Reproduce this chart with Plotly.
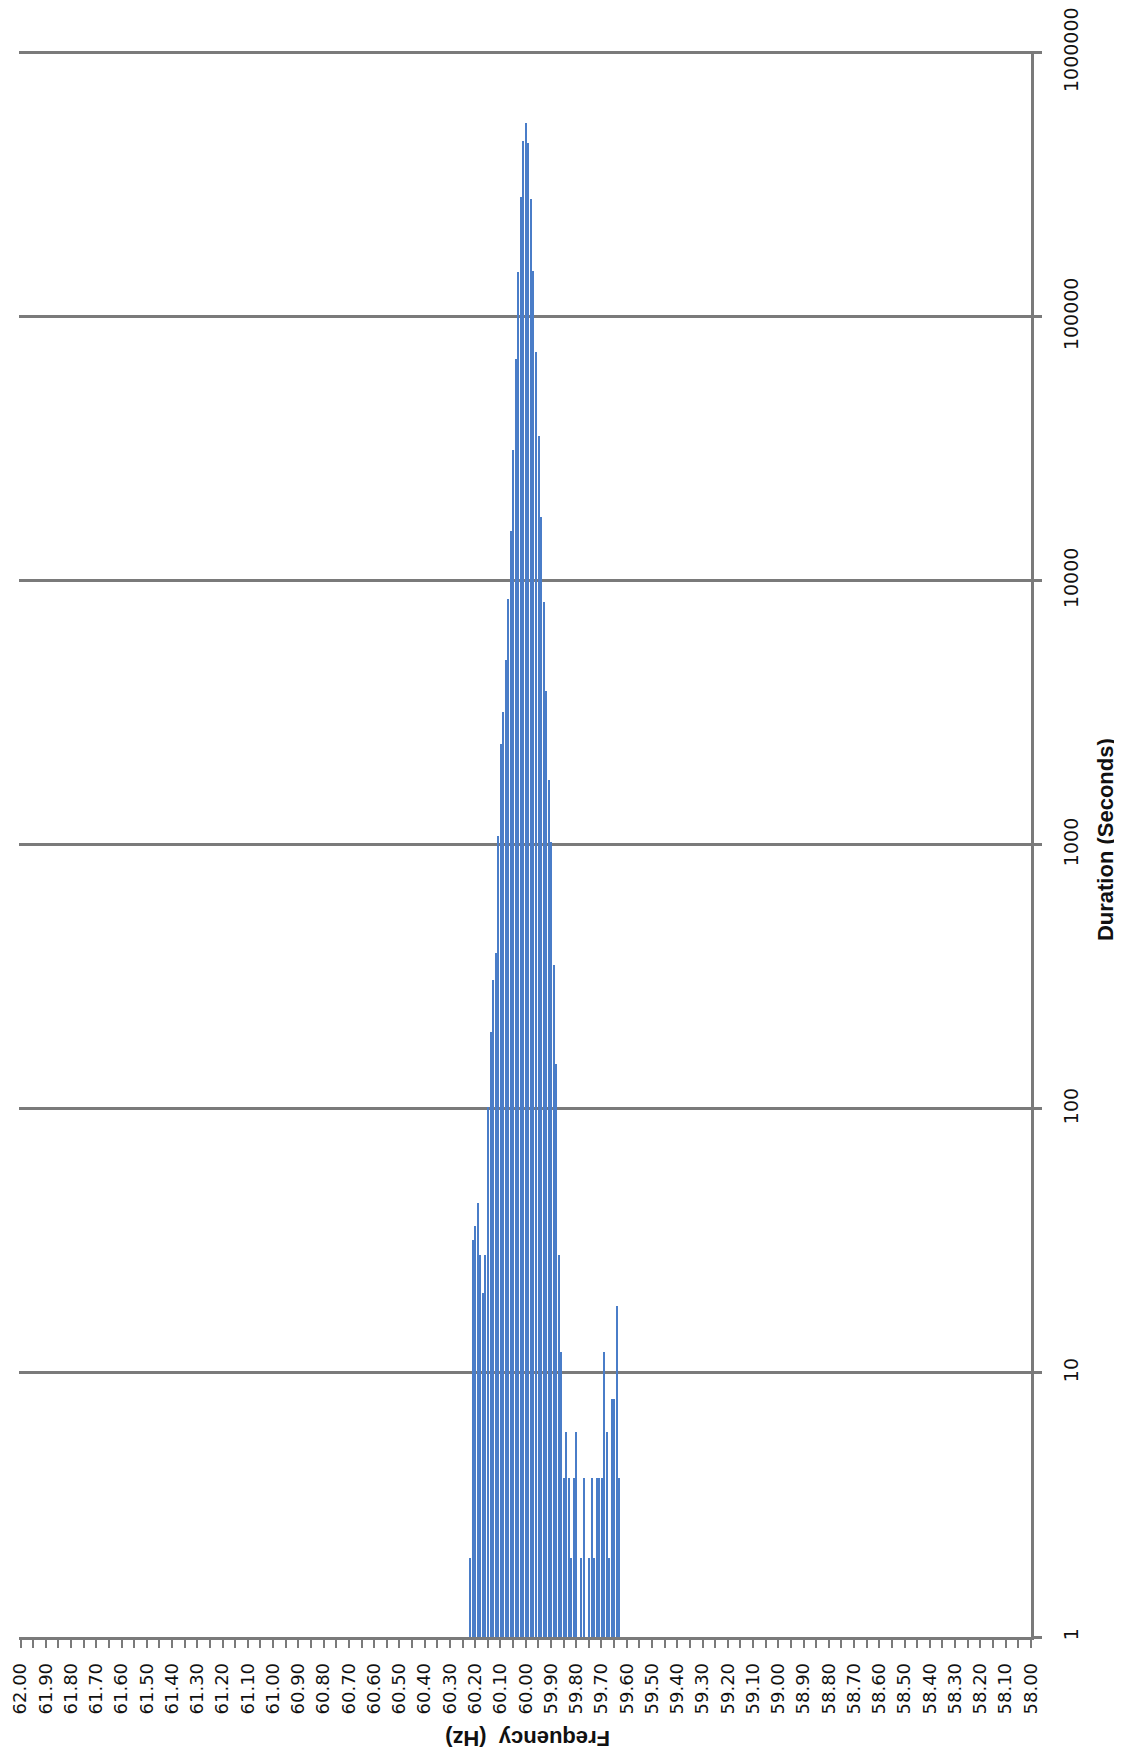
import plotly.graph_objects as go

# Frequency bins (Hz) and time spent at each (seconds)
freq_hz = [60.22, 60.21, 60.20, 60.19, 60.18, 60.17, 60.16, 60.15, 60.14, 60.13,
           60.12, 60.11, 60.10, 60.09, 60.08, 60.07, 60.06, 60.05, 60.04, 60.03,
           60.02, 60.01, 60.00, 59.99, 59.98, 59.97, 59.96, 59.95, 59.94, 59.93,
           59.92, 59.91, 59.90, 59.89, 59.88, 59.87, 59.86, 59.85, 59.84, 59.83,
           59.82, 59.81, 59.80, 59.78, 59.77, 59.75, 59.74, 59.73, 59.72, 59.71,
           59.70, 59.69, 59.68, 59.67, 59.66, 59.65, 59.64, 59.63]
duration_s = [2, 32, 36, 44, 28, 20, 28, 102, 195, 307,
              390, 1077, 2400, 3180, 5020, 8540, 15400, 31300, 69200, 147000,
              284000, 464000, 542000, 453000, 280000, 149000, 73300, 35400, 17500, 8290,
              3820, 1763, 1024, 350, 148, 28, 12, 4, 6, 4,
              2, 4, 6, 2, 4, 2, 4, 2, 4, 4,
              4, 12, 6, 2, 8, 8, 18, 4]

y_tick_vals = [1, 10, 100, 1000, 10000, 100000, 1000000]
y_tick_text = ["1", "10", "100", "1000", "10000", "100000", "1000000"]

x_title = "Frequency\u00a0 (Hz)"
y_title = "Duration (Seconds)"

axis_grey = "#7a7a7a"

fig = go.Figure()
fig.add_trace(go.Bar(
    x=freq_hz, y=duration_s, width=0.0055,
    marker=dict(color="#4a7dc8", line=dict(width=0)),
))

fig.update_layout(
    width=1122, height=1756,
    margin=dict(l=11, r=99, t=43, b=127, autoexpand=False),
    paper_bgcolor="white", plot_bgcolor="white",
    showlegend=False,
    font=dict(family="DejaVu Sans", color="#111111"),
    bargap=0,
)

fig.update_xaxes(
    range=[62.006, 57.9995], automargin=False,
    tickmode="linear", tick0=58.0, dtick=0.1, tickformat=".2f",
    tickangle=-90, tickfont=dict(size=18, family="DejaVu Sans", color="#111111"),
    ticks="outside", ticklen=8, tickwidth=2, tickcolor=axis_grey,
    minor=dict(dtick=0.05, tick0=58.0, ticks="outside", ticklen=8, tickwidth=2,
               tickcolor=axis_grey, showgrid=False),
    showline=True, linecolor=axis_grey, linewidth=2.5,
    showgrid=False, zeroline=False,
    ticklabelstandoff=8, ticklabeloverflow="allow",
)

fig.update_yaxes(
    type="log", range=[0, 6.006], side="right", automargin=False,
    tickmode="array", tickvals=y_tick_vals, ticktext=y_tick_text,
    tickangle=-90, tickfont=dict(size=19, family="DejaVu Sans", color="#111111"),
    ticks="outside", ticklen=8, tickwidth=2.5, tickcolor=axis_grey,
    showline=True, linecolor=axis_grey, linewidth=2.5,
    showgrid=True, gridcolor=axis_grey, gridwidth=2.5,
    zeroline=False,
    ticklabelstandoff=13, ticklabeloverflow="allow",
)

fig.add_annotation(
    text="<b>" + x_title + "</b>", xref="paper", yref="paper",
    x=0.503, y=-0.0644, xanchor="center", yanchor="middle",
    textangle=180, showarrow=False,
    font=dict(family="Liberation Sans", size=22, color="#111111"),
)
fig.add_annotation(
    text="<b>" + y_title + "</b>", xref="paper", yref="paper",
    x=1.073, y=0.503, xanchor="center", yanchor="middle",
    textangle=-90, showarrow=False,
    font=dict(family="Liberation Sans", size=22, color="#111111"),
)

fig.write_html("out.html")
